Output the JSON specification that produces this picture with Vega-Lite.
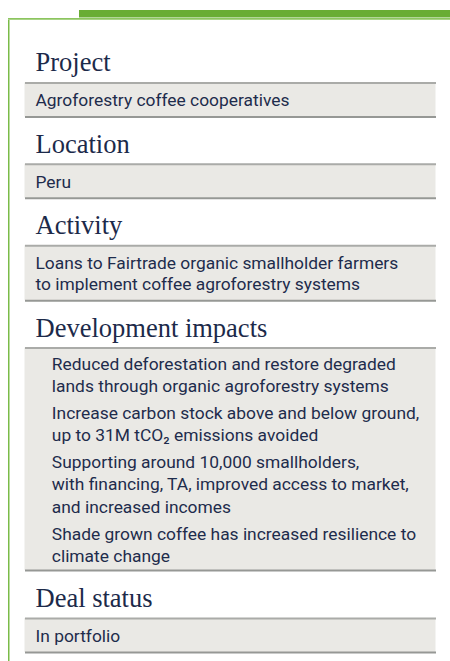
{
  "$schema": "https://vega.github.io/schema/vega-lite/v6.json",
  "padding": {"left": 8, "top": 10, "right": 0, "bottom": 0},
  "background": "white",
  "spacing": 0,
  "config": {
    "view": {"stroke": null},
    "axis": {"domainWidth": 2, "ticks": false, "labels": false, "grid": false},
    "title": {"font": "Liberation Serif", "fontSize": 26.5, "fontWeight": "normal", "color": "#1c2a4a", "anchor": "start", "frame": "group", "baseline": "alphabetic", "offset": 5.5, "dx": 11},
    "text": {"font": "Roboto", "fontSize": 17.4, "color": "#1e2c4c"}
  },
  "datasets": {
    "rows": [
      {"section": "Project", "item": 0, "line": 0, "text": "Agroforestry coffee cooperatives"},
      {"section": "Location", "item": 0, "line": 0, "text": "Peru"},
      {"section": "Activity", "item": 0, "line": 0, "text": "Loans to Fairtrade organic smallholder farmers"},
      {"section": "Activity", "item": 0, "line": 1, "text": "to implement coffee agroforestry systems"},
      {"section": "Development impacts", "item": 0, "line": 0, "text": "Reduced deforestation and restore degraded"},
      {"section": "Development impacts", "item": 0, "line": 1, "text": "lands through organic agroforestry systems"},
      {"section": "Development impacts", "item": 1, "line": 2, "text": "Increase carbon stock above and below ground,"},
      {"section": "Development impacts", "item": 1, "line": 3, "text": "up to 31M tCO₂ emissions avoided"},
      {"section": "Development impacts", "item": 2, "line": 4, "text": "Supporting around 10,000 smallholders,"},
      {"section": "Development impacts", "item": 2, "line": 5, "text": "with financing, TA, improved access to market,"},
      {"section": "Development impacts", "item": 2, "line": 6, "text": "and increased incomes"},
      {"section": "Development impacts", "item": 3, "line": 7, "text": "Shade grown coffee has increased resilience to"},
      {"section": "Development impacts", "item": 3, "line": 8, "text": "climate change"},
      {"section": "Deal status", "item": 0, "line": 0, "text": "In portfolio"}
    ]
  },
  "vconcat": [
    {
      "hconcat": [
        {"width": 71, "height": 7.5, "data": {"values": [{}]}, "mark": {"type": "rect", "opacity": 0}, "encoding": {}},
        {"width": 371, "height": 7.5, "data": {"values": [{}]}, "mark": {"type": "rect", "color": "#69ad34"}, "encoding": {}}
      ],
      "spacing": 0
    },
    {"width": 442, "height": 1.8, "data": {"values": [{}]}, "mark": {"type": "rect", "color": "#8cc55f"}, "encoding": {}},
    {
      "hconcat": [
        {"width": 1.5, "height": 641, "data": {"values": [{}]}, "mark": {"type": "rect", "color": "#7bbb48"}, "encoding": {}},
        {
          "spacing": 15.4,
          "vconcat": [
            {"width": 411, "height": 14.5, "data": {"values": [{}]}, "mark": {"type": "rect", "opacity": 0}, "encoding": {}},
            {
              "title": "Project",
              "width": 411, "height": 34,
              "view": {"fill": "#eae9e5"},
              "data": {"name": "rows"},
              "transform": [{"filter": {"field": "section", "equal": "Project"}}],
              "layer": [
                {"mark": {"type": "text", "align": "left", "baseline": "middle", "dx": 11, "dy": 2},
                 "encoding": {
                   "x": {"datum": 0, "type": "quantitative", "scale": {"domain": [0, 1]}, "axis": {"orient": "top", "title": null, "domainColor": "#aaaba8"}},
                   "y": {"field": "line", "type": "ordinal", "scale": {"type": "point", "padding": 0.787}, "axis": null},
                   "text": {"field": "text"}
                 }},
                {"mark": {"type": "rule", "strokeOpacity": 0},
                 "encoding": {"x": {"datum": 0, "type": "quantitative", "axis": {"orient": "bottom", "title": null, "domainColor": "#969895"}}}}
              ],
              "resolve": {"axis": {"x": "independent"}}
            },
            {
              "title": "Location",
              "width": 411, "height": 34,
              "view": {"fill": "#eae9e5"},
              "data": {"name": "rows"},
              "transform": [{"filter": {"field": "section", "equal": "Location"}}],
              "layer": [
                {"mark": {"type": "text", "align": "left", "baseline": "middle", "dx": 11, "dy": 2},
                 "encoding": {
                   "x": {"datum": 0, "type": "quantitative", "scale": {"domain": [0, 1]}, "axis": {"orient": "top", "title": null, "domainColor": "#aaaba8"}},
                   "y": {"field": "line", "type": "ordinal", "scale": {"type": "point", "padding": 0.787}, "axis": null},
                   "text": {"field": "text"}
                 }},
                {"mark": {"type": "rule", "strokeOpacity": 0},
                 "encoding": {"x": {"datum": 0, "type": "quantitative", "axis": {"orient": "bottom", "title": null, "domainColor": "#969895"}}}}
              ],
              "resolve": {"axis": {"x": "independent"}}
            },
            {
              "title": "Activity",
              "width": 411, "height": 55,
              "view": {"fill": "#eae9e5"},
              "data": {"name": "rows"},
              "transform": [{"filter": {"field": "section", "equal": "Activity"}}],
              "layer": [
                {"mark": {"type": "text", "align": "left", "baseline": "middle", "dx": 11, "dy": 2},
                 "encoding": {
                   "x": {"datum": 0, "type": "quantitative", "scale": {"domain": [0, 1]}, "axis": {"orient": "top", "title": null, "domainColor": "#aaaba8"}},
                   "y": {"field": "line", "type": "ordinal", "scale": {"type": "point", "padding": 0.79}, "axis": null},
                   "text": {"field": "text"}
                 }},
                {"mark": {"type": "rule", "strokeOpacity": 0},
                 "encoding": {"x": {"datum": 0, "type": "quantitative", "axis": {"orient": "bottom", "title": null, "domainColor": "#969895"}}}}
              ],
              "resolve": {"axis": {"x": "independent"}}
            },
            {
              "title": "Development impacts",
              "width": 411, "height": 222.5,
              "view": {"fill": "#eae9e5"},
              "data": {"name": "rows"},
              "transform": [{"filter": {"field": "section", "equal": "Development impacts"}}],
              "layer": [
                {"mark": {"type": "text", "align": "left", "baseline": "middle", "dx": 27.3, "dy": 2},
                 "encoding": {
                   "x": {"datum": 0, "type": "quantitative", "scale": {"domain": [0, 1]}, "axis": {"orient": "top", "title": null, "domainColor": "#aaaba8"}},
                   "y": {"field": "line", "type": "ordinal", "scale": {"type": "point", "padding": 1.1}, "axis": null},
                   "yOffset": {"field": "item", "type": "quantitative", "scale": {"domain": [0, 3], "range": [-7, 7]}},
                   "text": {"field": "text"}
                 }},
                {"mark": {"type": "rule", "strokeOpacity": 0},
                 "encoding": {"x": {"datum": 0, "type": "quantitative", "axis": {"orient": "bottom", "title": null, "domainColor": "#969895"}}}}
              ],
              "resolve": {"axis": {"x": "independent"}}
            },
            {
              "title": "Deal status",
              "width": 411, "height": 34,
              "view": {"fill": "#eae9e5"},
              "data": {"name": "rows"},
              "transform": [{"filter": {"field": "section", "equal": "Deal status"}}],
              "layer": [
                {"mark": {"type": "text", "align": "left", "baseline": "middle", "dx": 11, "dy": 2},
                 "encoding": {
                   "x": {"datum": 0, "type": "quantitative", "scale": {"domain": [0, 1]}, "axis": {"orient": "top", "title": null, "domainColor": "#aaaba8"}},
                   "y": {"field": "line", "type": "ordinal", "scale": {"type": "point", "padding": 0.787}, "axis": null},
                   "text": {"field": "text"}
                 }},
                {"mark": {"type": "rule", "strokeOpacity": 0},
                 "encoding": {"x": {"datum": 0, "type": "quantitative", "axis": {"orient": "bottom", "title": null, "domainColor": "#969895"}}}}
              ],
              "resolve": {"axis": {"x": "independent"}}
            }
          ]
        }
      ],
      "spacing": 14.5
    }
  ]
}
